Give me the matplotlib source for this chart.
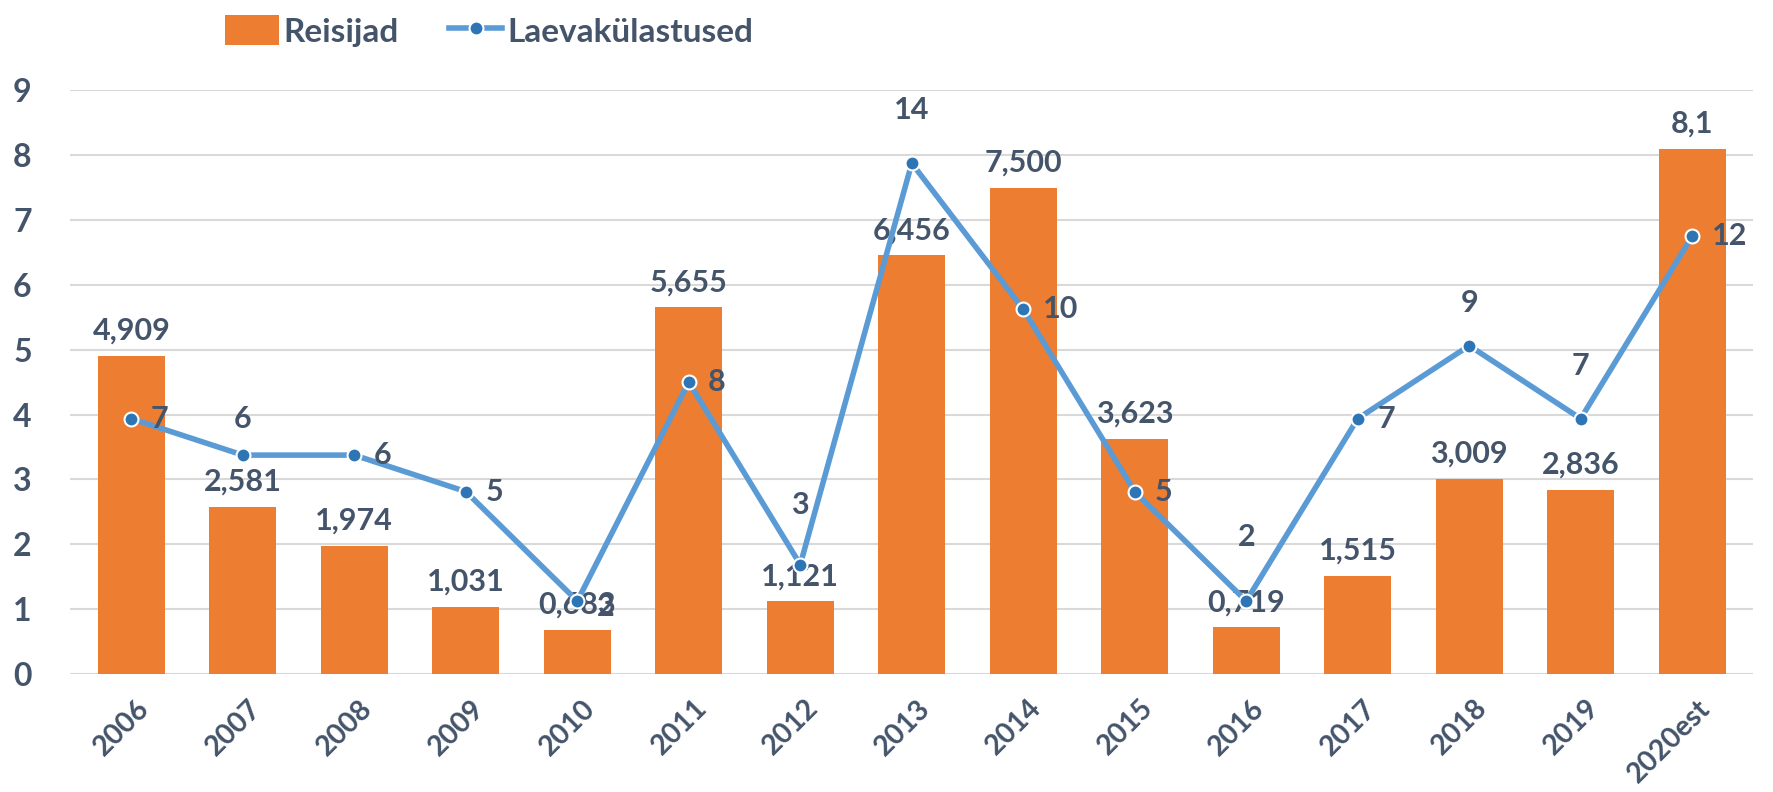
import matplotlib

matplotlib.use("Agg")
import matplotlib.pyplot as plt
import matplotlib.transforms as mtransforms
import numpy as np

years = ["2006", "2007", "2008", "2009", "2010", "2011", "2012", "2013",
         "2014", "2015", "2016", "2017", "2018", "2019", "2020est"]
reisijad = [4.909, 2.581, 1.974, 1.031, 0.683, 5.655, 1.121, 6.456,
            7.500, 3.623, 0.719, 1.515, 3.009, 2.836, 8.1]
reisijad_labels = ["4,909", "2,581", "1,974", "1,031", "0,683", "5,655", "1,121",
                   "6,456", "7,500", "3,623", "0,719", "1,515", "3,009", "2,836", "8,1"]
visits = [7, 6, 6, 5, 2, 8, 3, 14, 10, 5, 2, 7, 9, 7, 12]
# where Excel put each line label: "r" right of point, "t" above (dy in points)
visit_pos = ["r", "t", "r", "r", "r", "r", "t", "t", "r", "r", "t", "r", "t", "t", "r"]
visit_dy = [0, 26, 0, 0, -4, 0, 43, 38, 0, 0, 46, 0, 31, 38, 0]

ORANGE = "#ED7D31"
BLUE = "#5B9BD5"
TEXT = "#44546A"
FONT = "Lato"

plt.rcParams["font.family"] = [FONT, "DejaVu Sans"]
plt.rcParams["font.weight"] = "bold"

fig = plt.figure(figsize=(17.73, 7.92), dpi=100)
ax = fig.add_axes([0.0395, 0.149, 0.9495, 0.737])
x = np.arange(len(years))

ax.bar(x, reisijad, width=0.6, color=ORANGE, zorder=2, label="Reisijad")
ax.set_ylim(0, 9)
ax.set_xlim(-0.55, len(years) - 0.45)
ax.set_yticks(range(10))
ax.yaxis.grid(True, color="#D9D9D9", lw=1.5, zorder=0)
for s in ax.spines.values():
    s.set_visible(False)
ax.tick_params(axis="both", length=0, colors=TEXT)
ax.tick_params(axis="y", pad=41, labelsize=23)
ax.set_xticks(x)
ax.set_xticklabels(years, rotation=45, ha="right", rotation_mode="anchor",
                   fontsize=20.5)
ax.tick_params(axis="x", pad=15)
shift = mtransforms.ScaledTranslation(5 / 100, 0, fig.dpi_scale_trans)
for lab in ax.get_xticklabels():
    lab.set_transform(lab.get_transform() + shift)
for lab in ax.get_yticklabels():
    lab.set_fontweight("bold")
    lab.set_horizontalalignment("left")

for xi, v, lab in zip(x, reisijad, reisijad_labels):
    ax.annotate(lab, (xi, v), xytext=(0, 8), textcoords="offset points",
                ha="center", va="bottom", fontsize=22, color=TEXT,
                fontweight="bold", zorder=5)

ax2 = ax.twinx()
ax2.set_ylim(0, 16)
ax2.axis("off")
ax2.plot(x, visits, color=BLUE, lw=4, marker="o", ms=10,
         mfc="#2E75B6", mec="white", mew=1.5, zorder=3, label="Laevakülastused")
for xi, v, p, dy in zip(x, visits, visit_pos, visit_dy):
    if p == "r":
        off, ha = (14, dy), "left"
    else:
        off, ha = (0, dy), "center"
    ax2.annotate(str(v), (xi, v), xytext=off, textcoords="offset points",
                 ha=ha, va="center", fontsize=22, color=TEXT, fontweight="bold")

h1, l1 = ax.get_legend_handles_labels()
h2, l2 = ax2.get_legend_handles_labels()
fig.legend(h1 + h2, l1 + l2, loc="center", bbox_to_anchor=(0.276, 0.961),
           ncol=2, frameon=False, labelcolor=TEXT,
           handlelength=1.6, handleheight=1.0, handletextpad=0.15,
           columnspacing=1.5, prop={"weight": "bold", "size": 24})

fig.savefig("out.png", dpi=100)
